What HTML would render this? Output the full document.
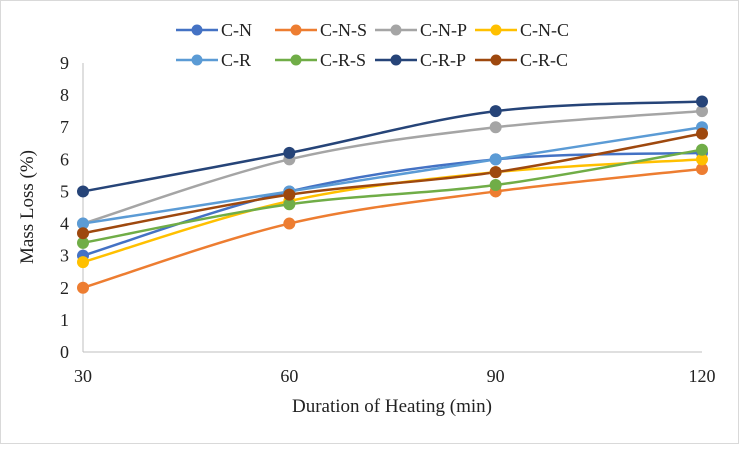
<!DOCTYPE html>
<html><head><meta charset="utf-8"><style>
body{margin:0;background:#fff;}
svg text{font-family:"Liberation Serif",serif;fill:#222;}
</style></head><body>
<svg width="739" height="444" id="c">
<rect x="0.5" y="0.5" width="738" height="443" fill="#fff" stroke="#d9d9d9"/>
</svg>
<script>
const categories=[30,60,90,120];
const yTicks=[0,1,2,3,4,5,6,7,8,9];
const seriesNames=["C-N","C-N-S","C-N-P","C-N-C","C-R","C-R-S","C-R-P","C-R-C"];
const colors=["#4472c4","#ed7d31","#a5a5a5","#ffc000","#5b9bd5","#70ad47","#264478","#9e480e"];
const sCN=[3.0,5.0,6.0,6.2];
const sCNS=[2.0,4.0,5.0,5.7];
const sCNP=[4.0,6.0,7.0,7.5];
const sCNC=[2.8,4.7,5.6,6.0];
const sCR=[4.0,5.0,6.0,7.0];
const sCRS=[3.4,4.6,5.2,6.3];
const sCRP=[5.0,6.2,7.5,7.8];
const sCRC=[3.7,4.9,5.6,6.8];
const allSeries=[sCN,sCNS,sCNP,sCNC,sCR,sCRS,sCRP,sCRC];
const X0=83,X1=702,Y0=352,Y1=63;
const xs=v=>X0+(v-30)/90*(X1-X0);
const ys=v=>Y0-v/9*(Y0-Y1);
const svg=document.getElementById('c');const NS='http://www.w3.org/2000/svg';
function mk(t,a,p){const e=document.createElementNS(NS,t);for(const k in a)e.setAttribute(k,a[k]);(p||svg).appendChild(e);return e;}
yTicks.forEach(t=>{
 const g=mk('line',{x1:X0,x2:X1,y1:ys(t),y2:ys(t),stroke:t===0?'#bfbfbf':'none'});
 
 
 const tx=mk('text',{x:69,y:ys(t)+6,'text-anchor':'end','font-size':18});tx.textContent=t;
 
 
});
const ax=mk('line',{x1:X0,x2:X0,y1:Y1,y2:Y0,stroke:'#bfbfbf'});


categories.forEach(c=>{
 const tx=mk('text',{x:xs(c),y:382,'text-anchor':'middle','font-size':18});tx.textContent=c;
 
 
});
const yt=mk('text',{x:0,y:0,transform:'translate(33,207) rotate(-90)','text-anchor':'middle','font-size':19});yt.textContent='Mass Loss (%)';


const xt=mk('text',{x:392,y:412,'text-anchor':'middle','font-size':19});xt.textContent='Duration of Heating (min)';


function smooth(pts){let d='M'+pts[0][0]+','+pts[0][1];
 for(let i=0;i<pts.length-1;i++){const p0=pts[i-1]||pts[i],p1=pts[i],p2=pts[i+1],p3=pts[i+2]||p2;
  const c1=[p1[0]+(p2[0]-p0[0])/6,p1[1]+(p2[1]-p0[1])/6],c2=[p2[0]-(p3[0]-p1[0])/6,p2[1]-(p3[1]-p1[1])/6];
  d+=' C'+c1+' '+c2+' '+p2;}return d;}
allSeries.forEach((s,i)=>{
 const pts=s.map((v,j)=>[xs(categories[j]),ys(v)]);
 const p=mk('path',{d:smooth(pts),fill:'none',stroke:colors[i],'stroke-width':2.5});
 
 
});
allSeries.forEach((s,i)=>{
 s.forEach((v,j)=>{const m=mk('circle',{cx:xs(categories[j]),cy:ys(v),r:6,fill:colors[i]});
  
  });
});
const lx=[176,275,375,475],ly=[30,60];
seriesNames.forEach((n,i)=>{
 const x=lx[i%4],y=ly[Math.floor(i/4)];
 const g=mk('g',{});
 
 
 mk('line',{x1:x,x2:x+42,y1:y,y2:y,stroke:colors[i],'stroke-width':2.5},g);
 mk('circle',{cx:x+21,cy:y,r:5.5,fill:colors[i]},g);
 const t=mk('text',{x:x+45,y:y+6,'font-size':18},g);t.textContent=n;
});
</script>
</body></html>
